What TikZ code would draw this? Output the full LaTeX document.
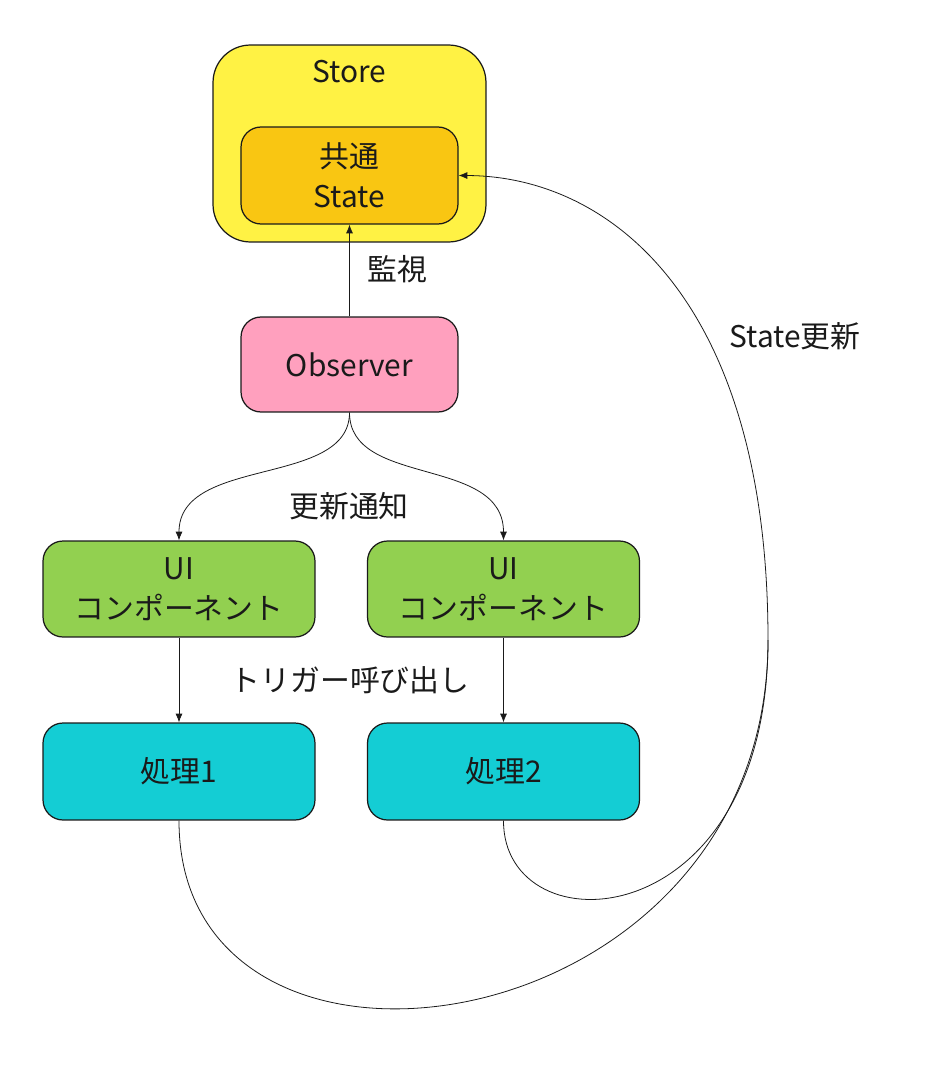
\documentclass[tikz,border=0pt]{standalone}
\usepackage{fontspec}
\newfontfamily\jpfont{Noto Sans CJK JP}
\usetikzlibrary{arrows.meta,positioning}
\definecolor{storeyellow}{RGB}{255,242,68}
\definecolor{stateorange}{RGB}{249,198,18}
\definecolor{obspink}{RGB}{255,160,190}
\definecolor{uigreen}{RGB}{146,208,80}
\definecolor{proccyan}{RGB}{20,205,212}
\definecolor{ink}{RGB}{26,26,26}

\begin{document}
\begin{tikzpicture}[x=0.02cm,y=-0.02cm,
  every node/.style={font=\jpfont\fontsize{17}{22.5}\selectfont, text=ink, align=center},
  box/.style={draw=ink, line width=0.7pt, rounded corners=0.4cm},
  link/.style={draw=ink, line width=0.45pt, -{Latex[length=5pt,width=4pt]}},
  line/.style={draw=ink, line width=0.45pt}]
\useasboundingbox (0,0) rectangle (935,1068);
\node[box, fill=storeyellow, rounded corners=0.75cm, minimum width=5.46cm, minimum height=3.94cm] (store) at (349.5,143.5){};
\node (storetitle) at (349.5,72){Store};
\node[box, fill=stateorange, minimum width=4.34cm, minimum height=1.94cm] (state) at (349.5,175.5){共通\\State};
\node[box, fill=obspink, minimum width=4.34cm, minimum height=1.9cm] (obs) at (349.5,364.5){Observer};
\node[box, fill=uigreen, minimum width=5.44cm, minimum height=1.92cm] (ui1) at (179,589){UI\\コンポーネント};
\node[box, fill=uigreen, minimum width=5.44cm, minimum height=1.92cm] (ui2) at (503.5,589){UI\\コンポーネント};
\node[box, fill=proccyan, minimum width=5.44cm, minimum height=1.94cm] (proc1) at (179,771.5){処理1};
\node[box, fill=proccyan, minimum width=5.44cm, minimum height=1.94cm] (proc2) at (503.5,771.5){処理2};
\coordinate (turn) at (768,640);

\draw[link] (obs) -- (state);
\node (watch) at (397,269){監視};
\draw[link] (obs.south) .. controls +(0,75) and +(0,-85) .. (ui1.north);
\draw[link] (obs.south) .. controls +(0,75) and +(0,-85) .. (ui2.north);
\node (notify) at (349,506){更新通知};
\draw[link] (ui1) -- (proc1);
\draw[link] (ui2) -- (proc2);
\node (trigger) at (350,680){トリガー呼び出し};
\draw[line] (proc1.south) .. controls (179,1130) and (768,1050) .. (turn);
\draw[line] (proc2.south) .. controls (503,950) and (768,940) .. (turn);
\draw[link] (turn) .. controls (768,300) and (610,176) .. (state.east);
\node (update) at (795,336){State更新};
\end{tikzpicture}
\end{document}
